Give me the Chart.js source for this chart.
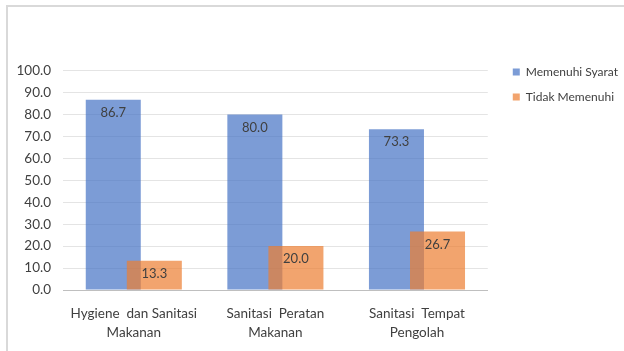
<!DOCTYPE html>
<html>
<head>
<meta charset="utf-8">
<script src="https://cdn.jsdelivr.net/npm/chart.js@4.4.1/dist/chart.umd.min.js"></script>
<style>
  html, body { margin: 0; padding: 0; background: #fff; }
  #wrap { position: relative; width: 624px; height: 351px; }
  #frame { position: absolute; left: 6px; top: 5px; right: 0; bottom: 0;
           border-left: 2px solid #d9d9d9; border-top: 2px solid #d9d9d9; }
  canvas { position: absolute; left: 0; top: 0; }
</style>
</head>
<body>
<div id="wrap">
  <div id="frame"></div>
  <canvas id="chart" width="624" height="351"></canvas>
</div>
<script>
const categories = [
  ["Hygiene  dan Sanitasi", "Makanan"],
  ["Sanitasi  Peratan", "Makanan"],
  ["Sanitasi  Tempat", "Pengolah"],
];
const memenuhi = [86.7, 80.0, 73.3];
const tidakMemenuhi = [13.3, 20.0, 26.7];
const seriesNames = ["Memenuhi Syarat", "Tidak Memenuhi"];

const FONT = "Lato, 'Open Sans', sans-serif";
const TEXT = "#404040";

// orange bars sit over the blue ones, so draw in dataset order
const drawOrder = {
  id: "drawOrder",
  beforeDatasetsDraw(chart) {
    chart.getSortedVisibleDatasetMetas().forEach(m => m.controller.draw());
    return false;
  },
};

// leave a gap between plot and legend
const legendGap = {
  id: "legendGap",
  afterLayout(chart) {
    chart.legend.left += 12;
    chart.legend.right += 12;
  },
};

const valueLabels = {
  id: "valueLabels",
  afterDraw(chart) {
    const ctx = chart.ctx;
    ctx.save();
    ctx.font = "13px " + FONT;
    ctx.fillStyle = TEXT;
    ctx.textAlign = "center";
    ctx.textBaseline = "middle";
    chart.data.datasets.forEach((ds, i) => {
      chart.getDatasetMeta(i).data.forEach((bar, j) => {
        ctx.fillText(ds.data[j].toFixed(1), bar.x, bar.y + 13);
      });
    });
    ctx.restore();
  },
};

new Chart(document.getElementById("chart"), {
  type: "bar",
  plugins: [drawOrder, legendGap, valueLabels],
  data: {
    labels: categories,
    datasets: [
      {
        label: seriesNames[0],
        data: memenuhi,
        backgroundColor: "rgba(68,114,196,0.7)",
        categoryPercentage: 0.58,
        barPercentage: 1.34,
      },
      {
        label: seriesNames[1],
        data: tidakMemenuhi,
        backgroundColor: "rgba(237,125,49,0.7)",
        categoryPercentage: 0.58,
        barPercentage: 1.34,
      },
    ],
  },
  options: {
    responsive: false,
    animation: false,
    layout: { padding: { top: 53, bottom: 0, left: 0, right: 8 } },
    plugins: {
      tooltip: { enabled: false },
      legend: {
        position: "right",
        align: "start",
        labels: {
          boxWidth: 7,
          boxHeight: 7,
          padding: 13,
          color: TEXT,
          font: { family: FONT, size: 12 },
        },
      },
    },
    scales: {
      x: {
        afterFit(s) { s.height = 61; },
        grid: { display: false, drawTicks: false },
        border: { display: true, color: "#bfbfbf", width: 1 },
        ticks: {
          color: TEXT,
          padding: 14,
          maxRotation: 0,
          font: { family: FONT, size: 13.5, lineHeight: 1.4 },
        },
      },
      y: {
        min: 0,
        max: 108,
        afterBuildTicks(s) { s.ticks = s.ticks.filter(t => t.value <= 100); },
        afterFit(s) { s.width = 63; },
        grid: { color: "#e4e4e4", drawTicks: false },
        border: { display: false },
        ticks: {
          stepSize: 10,
          padding: 12,
          color: TEXT,
          font: { family: FONT, size: 13.5 },
          callback: v => v.toFixed(1),
        },
      },
    },
  },
});
</script>
</body>
</html>
